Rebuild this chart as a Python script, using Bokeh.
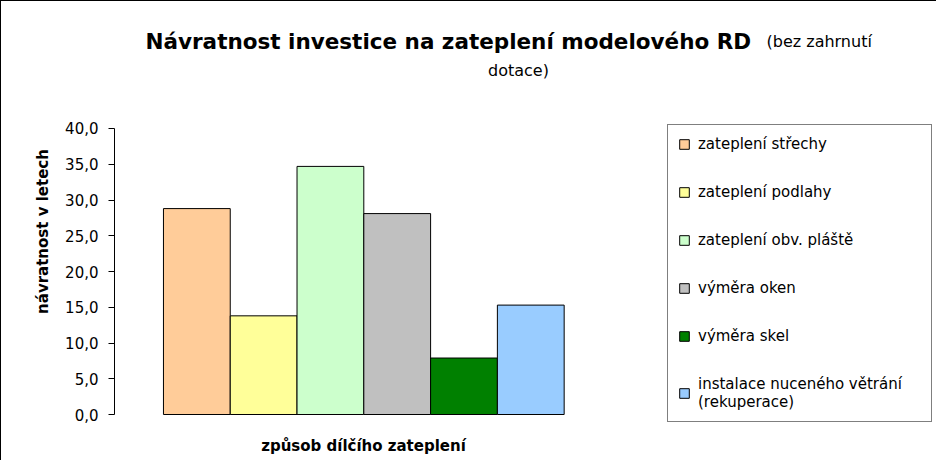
from bokeh.plotting import figure
from bokeh.models import (Range1d, FixedTicker, Legend, LegendItem, Label, ColumnDataSource)
from bokeh.embed import file_html
from bokeh.resources import INLINE

# ---- data ----
categories = ["zateplení střechy", "zateplení podlahy", "zateplení obv. pláště",
              "výměra oken", "výměra skel", "instalace nuceného větrání\n(rekuperace)"]
values = [28.8, 13.8, 34.7, 28.1, 7.9, 15.3]
colors = ["#FFCC99", "#FFFF99", "#CCFFCC", "#C0C0C0", "#008000", "#99CCFF"]
y_ticks = [0, 5, 10, 15, 20, 25, 30, 35, 40]
y_tick_labels = ["0,0", "5,0", "10,0", "15,0", "20,0", "25,0", "30,0", "35,0", "40,0"]

FONT = "DejaVu Sans"

src = ColumnDataSource(dict(x=list(range(len(categories))), top=values,
                            color=colors, name=categories))

# frame spans the whole drawing area so that title, legend and x label are not
# clipped; the y axis line is bounded to 0..40
p = figure(width=936, height=460, output_backend="svg", toolbar_location=None,
           x_range=Range1d(-1.233, 11.09),
           y_range=Range1d(-6.573, 57.762),
           min_border_left=113, min_border_right=0,
           min_border_top=0, min_border_bottom=0)
p.outline_line_color = None
p.xgrid.visible = False
p.ygrid.visible = False
p.xaxis.visible = False
p.background_fill_color = "white"
p.border_fill_color = "white"
p.styles = {"border-left": "1px solid black", "border-top": "1px solid black"}

r = p.vbar(x="x", top="top", width=1.0, bottom=0, source=src,
           fill_color="color", line_color="black", line_width=1)

# y axis
ya = p.yaxis[0]
ya.bounds = (y_ticks[0], y_ticks[-1])
ya.ticker = FixedTicker(ticks=y_ticks)
ya.major_label_overrides = {t: l for t, l in zip(y_ticks, y_tick_labels)}
ya.minor_tick_line_color = None
ya.major_tick_in = 0
ya.major_tick_out = 6
ya.major_label_standoff = 10
ya.major_label_text_font = FONT
ya.major_label_text_font_size = "15px"
ya.major_label_text_color = "black"
ya.axis_line_color = "black"
ya.major_tick_line_color = "black"
ya.axis_label = "návratnost v letech"
ya.axis_label_text_font = FONT
ya.axis_label_text_font_style = "bold"
ya.axis_label_text_font_size = "15px"
ya.axis_label_text_color = "black"
ya.axis_label_standoff = 10

# x axis title (as a label, centred under the bars' plot area)
p.add_layout(Label(x=249, y=16, x_units="screen", y_units="screen",
                   text="způsob dílčího zateplení",
                   text_font=FONT, text_font_style="bold",
                   text_font_size="15px", text_color="black",
                   text_baseline="alphabetic", text_align="center"))

# legend
items = [LegendItem(label=c, renderers=[r], index=i) for i, c in enumerate(categories)]
legend = Legend(items=items, location=(553, 39), padding=10, spacing=30,
                glyph_width=12, glyph_height=12, label_standoff=8,
                label_height=18, label_width=223,
                label_text_font=FONT, label_text_font_size="15px",
                label_text_color="black",
                border_line_color="black", border_line_width=1,
                background_fill_color="white", background_fill_alpha=1.0,
                margin=0)
p.add_layout(legend, "center")

# title (mixed bold / normal)
p.add_layout(Label(x=31, y=420, x_units="screen", y_units="screen",
                   text="Návratnost investice na zateplení modelového RD",
                   text_font=FONT, text_font_style="bold",
                   text_font_size="21.5px", text_color="black",
                   text_baseline="alphabetic", text_align="left"))
p.add_layout(Label(x=652, y=420, x_units="screen", y_units="screen",
                   text="(bez zahrnutí",
                   text_font=FONT, text_font_size="16px", text_color="black",
                   text_baseline="alphabetic", text_align="left"))
p.add_layout(Label(x=404, y=391, x_units="screen", y_units="screen",
                   text="dotace)",
                   text_font=FONT, text_font_size="16px", text_color="black",
                   text_baseline="alphabetic", text_align="center"))

open("out.html", "w").write(file_html(p, INLINE))
